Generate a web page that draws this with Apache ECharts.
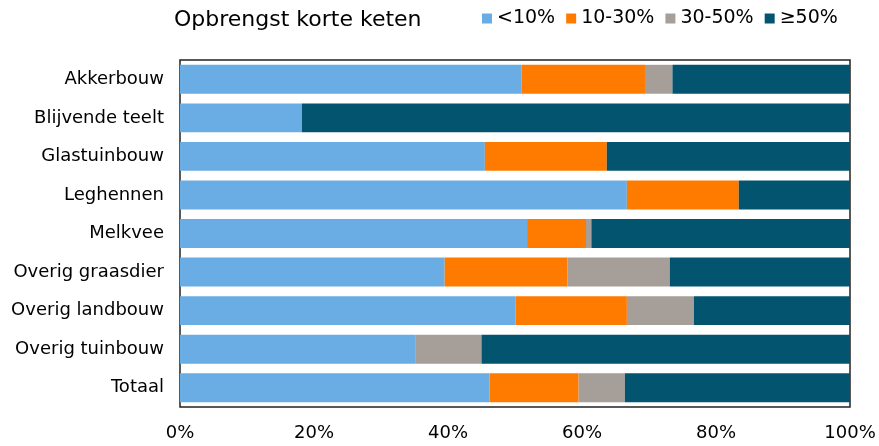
<!DOCTYPE html>
<html>
<head>
<meta charset="utf-8">
<script src="https://cdn.jsdelivr.net/npm/echarts@6/dist/echarts.min.js"></script>
<style>
html,body{margin:0;padding:0;background:#fff;}
#chart{width:879px;height:446px;}
</style>
</head>
<body>
<div id="chart"></div>
<script>
var categories = ['Akkerbouw', 'Blijvende teelt', 'Glastuinbouw', 'Leghennen', 'Melkvee',
    'Overig graasdier', 'Overig landbouw', 'Overig tuinbouw', 'Totaal'];
var lt10 = [51.0, 18.2, 45.5, 66.7, 51.8, 39.5, 50.1, 35.1, 46.2];
var p10_30 = [18.4, 0, 18.2, 16.7, 8.8, 18.3, 16.6, 0, 13.3];
var p30_50 = [4.1, 0, 0, 0, 0.8, 15.3, 10.0, 9.9, 6.9];
var ge50 = [26.5, 81.8, 36.3, 16.6, 38.6, 26.9, 23.3, 55.0, 33.6];
var xTicks = [0, 20, 40, 60, 80, 100];

var font = 'DejaVu Sans';

function bar(name, data, color) {
    return {
        name: name,
        type: 'bar',
        stack: 'total',
        data: data,
        barWidth: '75%',
        itemStyle: {color: color},
        emphasis: {disabled: true}
    };
}

var chart = echarts.init(document.getElementById('chart'));
chart.setOption({
    animation: false,
    title: {
        text: 'Opbrengst korte keten',
        left: 169,
        top: 4,
        textStyle: {fontFamily: font, fontSize: 22, fontWeight: 'normal', color: '#000'}
    },
    legend: {
        left: 477,
        top: 4,
        itemWidth: 10,
        itemHeight: 10,
        itemGap: 11,
        icon: 'rect',
        textStyle: {fontFamily: font, fontSize: 19, color: '#000'},
        data: ['<10%', '10-30%', '30-50%', '≥50%']
    },
    grid: {
        left: 180,
        right: 29,
        top: 60,
        bottom: 39,
        show: true,
        borderColor: '#222',
        borderWidth: 1.5
    },
    xAxis: {
        type: 'value',
        min: 0,
        max: 100,
        interval: 20,
        axisLine: {show: false},
        axisTick: {show: false},
        splitLine: {show: false},
        axisLabel: {
            fontFamily: font, fontSize: 18, color: '#000', margin: 17,
            formatter: function (v) { return xTicks.indexOf(v) >= 0 ? v + '%' : ''; }
        }
    },
    yAxis: {
        type: 'category',
        inverse: true,
        data: categories,
        axisLine: {show: false},
        axisTick: {show: false},
        axisLabel: {fontFamily: font, fontSize: 18, color: '#000', margin: 16}
    },
    series: [
        bar('<10%', lt10, '#6aade4'),
        bar('10-30%', p10_30, '#ff7b00'),
        bar('30-50%', p30_50, '#a69e98'),
        bar('≥50%', ge50, '#02546f')
    ]
});
</script>
</body>
</html>
